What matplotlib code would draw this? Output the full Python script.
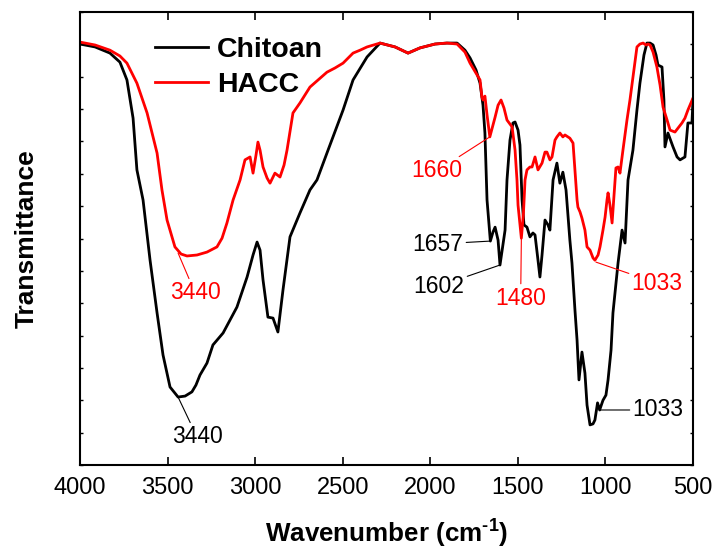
import matplotlib
matplotlib.use("Agg")
import matplotlib.pyplot as plt

plt.rcParams['font.family'] = ['Liberation Sans', 'DejaVu Sans']
plt.rcParams['mathtext.fontset'] = 'custom'
plt.rcParams['mathtext.rm'] = 'Liberation Sans'
plt.rcParams['mathtext.bf'] = 'Liberation Sans:bold'

# Chitoan (black) spectrum, wavenumber (cm-1) vs transmittance (a.u.)
chitoan_wn = [4000, 3914, 3829, 3772, 3732, 3697, 3675, 3640, 3600, 3560, 3526, 3486, 3440, 3400, 3361,
              3338, 3315, 3275, 3241, 3183, 3104, 3046, 3012, 2989, 2972, 2955, 2927, 2898, 2870, 2841,
              2801, 2744, 2687, 2647, 2590, 2498, 2441, 2361, 2287, 2201, 2127, 2059, 1973, 1905, 1847,
              1802, 1773, 1739, 1716, 1699, 1688, 1676, 1657, 1642, 1630, 1613, 1602, 1573, 1562, 1545,
              1528, 1516, 1499, 1488, 1476, 1465, 1448, 1431, 1414, 1402, 1385, 1374, 1362, 1345, 1328,
              1317, 1299, 1277, 1260, 1243, 1225, 1203, 1191, 1174, 1162, 1151, 1134, 1117, 1105, 1088,
              1071, 1060, 1045, 1033, 1014, 997, 985, 968, 957, 928, 905, 888, 871, 843, 820,
              803, 780, 763, 745, 728, 711, 700, 677, 666, 660, 643, 614, 591, 574, 546,
              529, 506, 500]
chitoan_t = [13.01, 12.92, 12.73, 12.45, 11.90, 10.72, 9.12, 8.19, 6.33, 4.70, 3.40, 2.41, 2.10, 2.13, 2.26,
             2.47, 2.78, 3.15, 3.71, 4.08, 4.88, 5.81, 6.49, 6.89, 6.64, 5.72, 4.57, 4.54, 4.11, 5.41,
             7.05, 7.79, 8.50, 8.81, 9.64, 10.97, 11.90, 12.61, 13.04, 12.92, 12.73, 12.89, 13.01, 13.04, 13.04,
             12.82, 12.58, 12.21, 11.80, 11.12, 10.26, 8.19, 6.92, 7.20, 7.35, 6.95, 6.18, 7.26, 8.81, 10.04,
             10.57, 10.60, 10.35, 9.89, 8.19, 7.42, 7.35, 7.05, 7.17, 7.11, 6.33, 5.81, 6.49, 7.57, 7.42,
             7.26, 8.81, 9.33, 8.71, 9.05, 8.50, 6.95, 6.24, 4.79, 3.86, 2.63, 3.49, 2.84, 1.85, 1.24,
             1.27, 1.39, 1.92, 1.70, 2.00, 2.16, 2.63, 3.55, 4.70, 6.24, 7.26, 6.86, 8.81, 9.73, 10.97,
             11.80, 12.67, 13.04, 13.04, 12.98, 12.67, 12.36, 12.30, 11.28, 9.83, 10.26, 9.83, 9.52, 9.43, 9.52,
             10.57, 10.57, 11.28]

# HACC (red) spectrum
hacc_wn = [4000, 3914, 3829, 3772, 3732, 3675, 3617, 3560, 3532, 3503, 3458, 3423, 3389, 3332, 3275,
           3218, 3189, 3161, 3126, 3086, 3058, 3029, 3012, 2995, 2984, 2972, 2955, 2932, 2915, 2887,
           2858, 2835, 2818, 2784, 2744, 2687, 2641, 2590, 2544, 2498, 2441, 2401, 2361, 2287, 2201,
           2127, 2059, 1973, 1905, 1847, 1802, 1773, 1739, 1716, 1705, 1699, 1688, 1676, 1660, 1630,
           1613, 1596, 1579, 1562, 1533, 1516, 1505, 1499, 1480, 1468, 1459, 1448, 1431, 1419, 1402,
           1385, 1362, 1345, 1334, 1317, 1305, 1288, 1277, 1260, 1243, 1231, 1203, 1185, 1174, 1162,
           1157, 1145, 1134, 1117, 1105, 1088, 1071, 1060, 1042, 1031, 1014, 1002, 991, 985, 974,
           962, 945, 940, 928, 917, 900, 877, 860, 837, 820, 803, 785, 768, 757, 745,
           728, 706, 688, 671, 648, 631, 603, 580, 563, 546, 529, 500]
hacc_t = [13.07, 12.98, 12.82, 12.64, 12.42, 11.80, 10.88, 9.64, 8.50, 7.57, 6.74, 6.52, 6.46, 6.49, 6.58,
          6.74, 7.01, 7.48, 8.19, 8.81, 9.43, 9.52, 9.02, 9.58, 9.98, 9.73, 9.21, 8.87, 8.71, 9.02,
          8.90, 9.27, 9.73, 10.88, 11.19, 11.68, 11.90, 12.14, 12.27, 12.42, 12.73, 12.82, 12.92, 13.04, 12.92,
          12.73, 12.89, 13.01, 13.04, 13.01, 12.76, 12.42, 12.11, 11.90, 11.37, 11.28, 11.40, 10.82, 10.14, 10.75,
          11.12, 11.28, 11.03, 10.66, 10.45, 9.73, 8.81, 8.03, 7.01, 7.79, 8.81, 9.12, 9.21, 9.21, 9.52,
          9.12, 9.33, 9.67, 9.67, 9.43, 9.52, 10.04, 10.14, 10.26, 10.14, 10.20, 10.10, 9.95, 9.12, 8.19,
          7.97, 7.82, 7.63, 7.26, 6.74, 6.64, 6.40, 6.33, 6.49, 6.74, 7.26, 7.66, 8.19, 8.41, 8.03,
          7.48, 8.81, 9.18, 9.21, 9.02, 9.73, 10.66, 11.28, 12.21, 12.92, 13.01, 13.04, 12.98, 13.01, 12.98,
          12.76, 12.30, 11.74, 11.06, 10.66, 10.35, 10.29, 10.45, 10.57, 10.72, 10.97, 11.34]

# peak labels: (text, peak wn, peak T, text wn, text T, colour)
peaks = [
    ('3440', 3440, 2.10, 3332, 0.87, 'black'),
    ('3440', 3440, 6.55, 3343, 5.32, 'red'),
    ('1660', 1660, 10.14, 1962, 9.09, 'red'),
    ('1657', 1657, 6.92, 1956, 6.83, 'black'),
    ('1602', 1602, 6.18, 1950, 5.53, 'black'),
    ('1480', 1480, 7.01, 1484, 5.16, 'red'),
    ('1033', 1054, 6.27, 705, 5.62, 'red'),
    ('1033', 1033, 1.70, 700, 1.70, 'black'),
]

fig = plt.figure(figsize=(7.15, 5.48), dpi=100)
ax = fig.add_axes([80/715, 83/548, 613/715, 453/548])

ax.plot(chitoan_wn, chitoan_t, color='black', lw=2.0, label='Chitoan')
ax.plot(hacc_wn, hacc_t, color='red', lw=2.0, label='HACC')

for txt, px, py, tx, ty, c in peaks:
    ax.annotate(txt, xy=(px, py), xytext=(tx, ty), color=c, fontsize=16.5,
                ha='center', va='center',
                arrowprops=dict(arrowstyle='-', color=c, lw=0.8, shrinkA=0, shrinkB=0))

ax.set_xlim(4000, 500)
ax.set_ylim(0, 14)
ax.set_xticks([4000, 3500, 3000, 2500, 2000, 1500, 1000, 500])
ax.set_yticks(range(0, 15))
ax.set_yticklabels([])
ax.tick_params(axis='x', direction='in', length=6, width=1.2, labelsize=17, pad=9, top=True)
ax.tick_params(axis='y', direction='in', length=2.5, width=1.0, left=True, right=True)
for s in ax.spines.values():
    s.set_linewidth(1.5)

ax.set_xlabel('Wavenumber (cm$^{\\mathbf{\u2010}\\mathbf{1}}$)', fontsize=18.7, fontweight='bold')
ax.set_ylabel('Transmittance', fontsize=19, fontweight='bold')
ax.xaxis.set_label_coords(0.5, -0.112)
ax.yaxis.set_label_coords(-0.068, 0.5)

leg = ax.legend(loc='upper left', bbox_to_anchor=(0.122, 0.945), frameon=False,
                prop={'weight': 'bold', 'size': 20.5}, handlelength=1.86,
                handletextpad=0.32, labelspacing=0.31, borderpad=0, borderaxespad=0)

fig.savefig('out.png', dpi=100)
